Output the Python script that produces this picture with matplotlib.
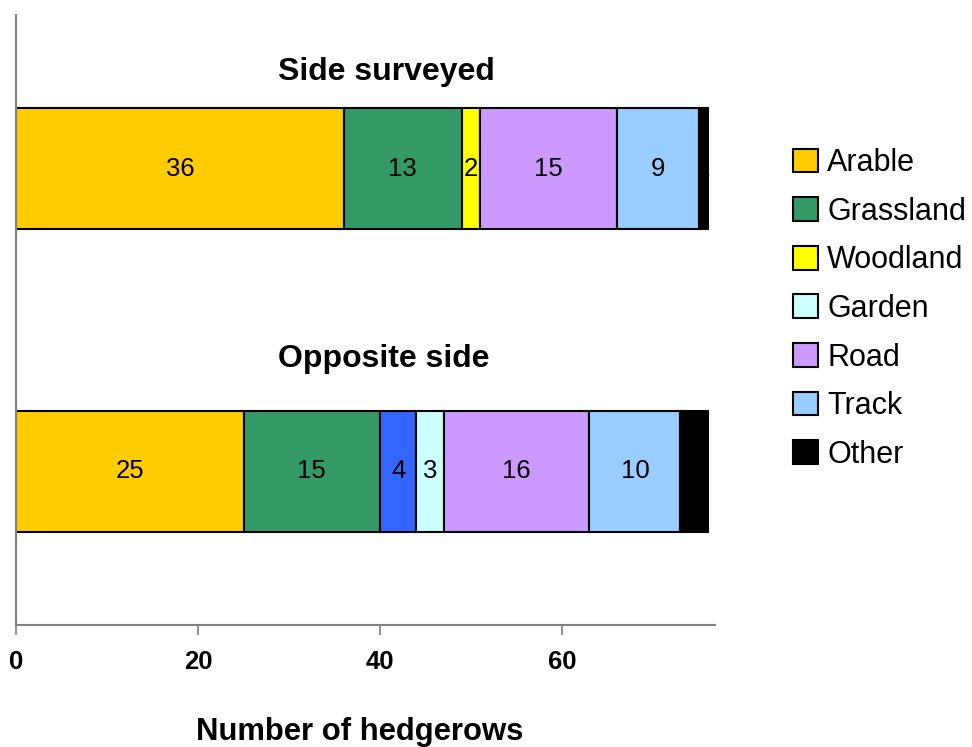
import matplotlib
matplotlib.use("Agg")
import matplotlib.pyplot as plt
from matplotlib.patches import Patch

plt.rcParams['font.family'] = ['Liberation Sans', 'DejaVu Sans']

# Land use next to surveyed hedgerows
groups = ['Side surveyed', 'Opposite side']
land_uses = ['Arable', 'Grassland', 'Woodland', 'Garden', 'Road', 'Track', 'Other']
arable = [36, 25]
grassland = [13, 15]
woodland = [2, 4]
garden = [0, 3]
road = [15, 16]
track = [9, 10]
other = [1, 3]
x_ticks = [0, 20, 40, 60]

series = [arable, grassland, woodland, garden, road, track, other]
legend_colors = ['#FFCC00', '#339966', '#FFFF00', '#CCFFFF', '#CC99FF', '#99CCFF', '#000000']
# woodland on the opposite side is drawn in blue
seg_colors = [
    ['#FFCC00', '#339966', '#FFFF00', '#CCFFFF', '#CC99FF', '#99CCFF', '#000000'],
    ['#FFCC00', '#339966', '#3366FF', '#CCFFFF', '#CC99FF', '#99CCFF', '#000000'],
]

fig = plt.figure(figsize=(9.72, 7.47), dpi=100)
ax = fig.add_axes([16 / 972, 122 / 747, 699 / 972, 610 / 747])

ypos = [3.5, 1.0]
title_offset = [0.80, 0.93]
title_x = [40.66, 40.44]
for g, y in enumerate(ypos):
    left = 0
    for s, vals in enumerate(series):
        v = vals[g]
        if v > 0:
            ax.barh(y, v, left=left, height=1.0, color=seg_colors[g][s],
                    edgecolor='black', linewidth=1.5)
            ax.text(left + v / 2, y, str(v), ha='center', va='center',
                    fontsize=18.5, color='black')
        left += v
    ax.text(title_x[g], y + title_offset[g], groups[g], ha='center', va='center',
            fontsize=23, fontweight='bold')

ax.set_xlim(0, 76.8)
ax.set_ylim(-0.27, 4.77)
ax.set_xticks(x_ticks)
ax.set_xticklabels([str(t) for t in x_ticks], fontsize=18.5, fontweight='bold')
ax.set_yticks([])
for side in ['top', 'right']:
    ax.spines[side].set_visible(False)
for side in ['left', 'bottom']:
    ax.spines[side].set_color('#808080')
    ax.spines[side].set_linewidth(1.5)
ax.tick_params(axis='x', direction='out', length=7, width=1.2, color='#808080', pad=11)

fig.text(360 / 972, 7 / 747, 'Number of hedgerows', ha='center', va='baseline',
         fontsize=22.3, fontweight='bold')

handles = [Patch(facecolor=c, edgecolor='black', linewidth=1.5) for c in legend_colors]
fig.legend(handles, land_uses, loc='upper left', bbox_to_anchor=(793 / 972, 1 - 148 / 747),
           frameon=False, fontsize=22, handlelength=0.82, handleheight=0.82,
           handletextpad=0.3, labelspacing=0.61, borderpad=0, borderaxespad=0)

fig.savefig('out.png', dpi=100)
